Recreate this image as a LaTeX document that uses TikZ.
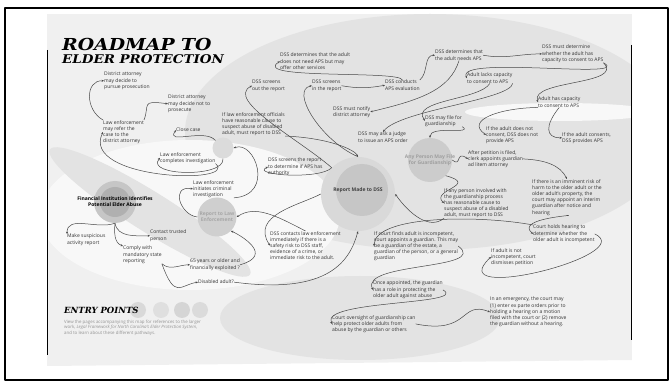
\documentclass[tikz,border=0pt]{standalone}
\usepackage{fontspec}
\setmainfont{Open Sans}
\newfontfamily\titlefont{DejaVu Serif}
\usetikzlibrary{arrows.meta}
\definecolor{pagebg}{HTML}{F0F0F0}
\definecolor{blobgray}{HTML}{E3E3E3}
\definecolor{inkgray}{HTML}{333333}
\begin{document}
\begin{tikzpicture}[x=1pt,y=-1pt,line join=round,
    lbl/.style={anchor=north west,align=left,inner sep=0pt,text=inkgray,font=\fontsize{5}{6.2}\selectfont},
    link/.style={draw=black!72,line width=0.5pt,-{Stealth[length=2.4pt,width=2pt]}},
    hub/.style={circle,inner sep=0pt,minimum size=#1},
    hubtext/.style={align=center,inner sep=0pt,font=\fontsize{5}{6}\selectfont\bfseries},
  ]
  \useasboundingbox (0,0) rectangle (670,382);
  \fill[white] (0,0) rectangle (670,382);
  \draw[line width=1.5pt] (5,8) rectangle (668,380);
  % page and background shading
  \begin{scope}
    \clip (47,14) -- (632,14) -- (632,360) -- (47,366) -- cycle;
    \fill[pagebg] (47,14) rectangle (632,366);
    \fill[blobgray] (430,132) ellipse [x radius=245, y radius=118];
    \fill[white!55!pagebg] (190,215) ellipse [x radius=150, y radius=75];
    \fill[blobgray,rotate around={-32:(150,212)}] (150,212) ellipse [x radius=118, y radius=20];
    \fill[blobgray] (360,318) ellipse [x radius=140, y radius=42];
    \fill[white!50!pagebg] (560,112) ellipse [x radius=95, y radius=9];
  \end{scope}
  \draw[line width=0.8pt] (47,50) -- (47,355);
  \draw[line width=0.8pt] (631,45) -- (631,340);

  % title
  \node[anchor=base west,inner sep=0pt] (title1) at (62,51) {\titlefont\bfseries\itshape\fontsize{16.5}{16.5}\selectfont\scalebox{1.14}[1]{ROADMAP TO}};
  \node[anchor=base west,inner sep=0pt] (title2) at (62,64) {\titlefont\bfseries\itshape\fontsize{12}{12}\selectfont\scalebox{1.12}[1]{ELDER PROTECTION}};

  % hubs
  \node[hub=42pt,fill=gray!45] (fininst) at (115,202) {};
  \fill[gray!62] (fininst) circle (15);
  \node[hubtext,text=black] at (fininst) {Financial Institution Identifies\\Potential Elder Abuse};
  \node[hub=74pt,fill=gray!30] (reportdss) at (358,194) {};
  \fill[gray!45] (362,190) circle (26);
  \node[hubtext,text=black!75] at (358,190) {Report Made to DSS};
  \node[hub=39pt,fill=gray!38] (reportle) at (217,217) {};
  \node[hubtext,text=gray!70] at (reportle) {Report to Law\\Enforcement};
  \node[hub=44pt,fill=gray!40] (anyperson) at (430,160) {};
  \node[hubtext,text=gray!75] at (anyperson) {Any Person May File\\for Guardianship};
  \node[hub=21pt,fill=gray!28] (jail) at (223,148) {};

  % labels, left side
  \node[lbl] (dapursue) at (104,72) {District attorney\\may decide to\\pursue prosecution};
  \node[lbl] (danot) at (168,95) {District attorney\\may decide not to\\prosecute};
  \node[lbl] (lerefer) at (103,120) {Law enforcement\\may refer the\\case to the\\district attorney};
  \node[lbl] (closecase) at (176,128) {Close case};
  \node[lbl] (lecomplete) at (160,152) {Law enforcement\\completes investigation};
  \node[lbl] (lemust) at (222,112) {If law enforcement officials\\have reasonable cause to\\suspect abuse of disabled\\adult, must report to DSS};
  \node[lbl] (leinit) at (193,180) {Law enforcement\\initiates criminal\\investigation};
  \node[lbl] (suspicious) at (67,234) {Make suspicious\\activity report};
  \node[lbl] (trusted) at (150,230) {Contact trusted\\person};
  \node[lbl] (comply) at (123,246) {Comply with\\mandatory state\\reporting};
  \node[lbl] (older) at (190,259) {65 years or older and\\financially exploited ?};
  \node[lbl] (disabled) at (198,280) {Disabled adult?};

  % labels, middle
  \node[lbl] (noneed) at (280,53) {DSS determines that the adult\\does not need APS but may\\offer other services};
  \node[lbl] (screenout) at (252,80) {DSS screens\\out the report};
  \node[lbl] (screenin) at (312,80) {DSS screens\\in the report};
  \node[lbl] (evaluate) at (385,80) {DSS conducts\\APS evaluation};
  \node[lbl] (notify) at (333,106) {DSS must notify\\district attorney};
  \node[lbl] (judge) at (358,132) {DSS may ask a judge\\to issue an APS order};
  \node[lbl] (authority) at (268,158) {DSS screens the report\\to determine if APS has\\authority};
  \node[lbl] (contactle) at (270,231) {DSS contacts law enforcement\\immediately if there is a\\safety risk to DSS staff,\\evidence of a crime, or\\immediate risk to the adult.};
  \node[lbl] (incompetent) at (374,231) {If court finds adult is incompetent,\\court appoints a guardian. This may\\be a guardian of the estate, a\\guardian of the person, or a general\\guardian};
  \node[lbl] (appointed) at (373,281) {Once appointed, the guardian\\has a role in protecting the\\older adult against abuse};
  \node[lbl] (oversight) at (332,315) {Court oversight of guardianship can\\help protect older adults from\\abuse by the guardian or others};
  \node[lbl] (emergency) at (490,297) {In an emergency, the court may\\(1) enter ex parte orders prior to\\holding a hearing on a motion\\filed with the court or (2) remove\\the guardian without a hearing.};

  % labels, right side
  \node[lbl] (needs) at (435,50) {DSS determines that\\the adult needs APS};
  \node[lbl] (capacity) at (542,45) {DSS must determine\\whether the adult has\\capacity to consent to APS};
  \node[lbl] (lacks) at (467,73) {Adult lacks capacity\\to consent to APS};
  \node[lbl] (hascap) at (538,97) {Adult has capacity\\to consent to APS};
  \node[lbl] (mayfile) at (425,115) {DSS may file for\\guardianship};
  \node[lbl] (noconsent) at (486,126) {If the adult does not\\consent, DSS does not\\provide APS};
  \node[lbl] (consents) at (562,132) {If the adult consents,\\DSS provides APS};
  \node[lbl] (petition) at (468,150) {After petition is filed,\\clerk appoints guardian\\ad litem attorney};
  \node[lbl] (imminent) at (532,179) {If there is an imminent risk of\\harm to the older adult or the\\older adult's property, the\\court may appoint an interim\\guardian after notice and\\hearing};
  \node[lbl] (anyinvolved) at (444,188) {If any person involved with\\the guardianship process\\has reasonable cause to\\suspect abuse of a disabled\\adult, must report to DSS};
  \node[lbl] (hearing) at (533,225) {Court holds hearing to\\determine whether the\\older adult is incompetent};
  \node[lbl] (dismiss) at (491,248) {If adult is not\\incompetent, court\\dismisses petition};

  % entry points
  \foreach \cx/\shade in {138/30,161/25,182/33,200/28}{%
    \fill[gray!\shade] (\cx,310) circle (8);
  }
  \node[anchor=west,inner sep=0pt] (entry) at (64,310) {\titlefont\bfseries\itshape\fontsize{8.5}{8.5}\selectfont ENTRY POINTS};
  \node[anchor=north west,align=left,inner sep=0pt,text=gray!85,font=\fontsize{4.4}{5.4}\selectfont] (entrytext) at (64,320)
    {View the pages accompanying this map for references to the larger\\work, \textit{Legal Framework for North Carolina's Elder Protection System},\\and to learn about these different pathways.};

  % connectors, left
  \draw[link] (fininst.south) to[out=200,in=90] (suspicious.north west);
  \draw[link] (fininst.south) to[out=-80,in=180] (trusted.west);
  \draw[link] (fininst.south) to[out=-95,in=160] (comply.north west);
  \draw[link] (comply.south east) to[out=-40,in=180] (older.west);
  \draw[link] (comply.south east) .. controls (175,300) and (180,285) .. (disabled.west);
  \draw[link] (older.east) .. controls (275,255) and (240,235) .. (reportle.south east);
  \draw[link] (disabled.east) .. controls (330,295) and (350,260) .. (reportdss.south);
  \draw[link] (reportle.west) .. controls (180,215) and (170,185) .. (leinit.west);
  \draw[link] (leinit.south east) .. controls (275,195) and (255,140) .. (jail.east);
  \draw[link] (jail.north west) .. controls (205,128) and (165,145) .. (closecase.west);
  \draw[link] (jail.south) .. controls (225,178) and (145,176) .. (lecomplete.west);
  \draw[link] (lecomplete.south east) .. controls (240,185) and (80,180) .. (lerefer.west);
  \draw[link] (lerefer.north west) .. controls (85,110) and (85,80) .. (dapursue.west);
  \draw[link] (lerefer.north east) .. controls (150,105) and (140,100) .. (danot.west);
  \draw[link] (lemust.south east) .. controls (330,138) and (355,150) .. (reportdss.north);

  % connectors, middle
  \draw[link] (reportdss.north west) .. controls (300,140) and (225,100) .. (screenout.west);
  \draw[link] (reportdss.north) .. controls (320,140) and (290,90) .. (screenin.west);
  \draw[link] (screenin.east) to[out=-10,in=190] (evaluate.west);
  \draw[link] (evaluate.north) .. controls (400,70) and (250,80) .. (noneed.west);
  \draw[link] (evaluate.north east) to[out=40,in=180] (needs.west);
  \draw[link] (needs.south) .. controls (450,90) and (420,100) .. (notify.east);
  \draw[link] (reportdss.north west) .. controls (320,180) and (250,175) .. (authority.west);
  \draw[link] (reportdss.west) .. controls (300,205) and (250,215) .. (contactle.west);
  \draw[link] (contactle.north) .. controls (275,215) and (255,205) .. (reportle.east);

  % connectors, right
  \draw[link] (needs.east) to[out=-10,in=180] (capacity.west);
  \draw[link] (capacity.south east) .. controls (635,80) and (455,55) .. (lacks.west);
  \draw[link] (capacity.south east) .. controls (625,85) and (530,80) .. (hascap.west);
  \draw[link] (lacks.south east) .. controls (510,100) and (400,110) .. (judge.north);
  \draw[link] (lacks.south) .. controls (480,100) and (410,100) .. (mayfile.west);
  \draw[link] (hascap.south west) .. controls (500,108) and (465,120) .. (noconsent.west);
  \draw[link] (hascap.south) .. controls (545,125) and (545,138) .. (consents.west);
  \draw[link] (mayfile.south east) .. controls (475,135) and (430,125) .. (anyperson.north);
  \draw[link] (anyperson.east) .. controls (462,168) and (455,150) .. (petition.west);
  \draw[link] (petition.east) .. controls (545,160) and (560,165) .. (imminent.north);
  \draw[link] (anyperson.south east) .. controls (480,185) and (430,190) .. (anyinvolved.west);
  \draw[link] (anyinvolved.south west) .. controls (430,230) and (410,215) .. (reportdss.east);
  \draw[link] (imminent.south) .. controls (580,215) and (515,218) .. (hearing.west);
  \draw[link] (hearing.east) .. controls (640,255) and (440,305) .. (dismiss.west);
  \draw[link] (hearing.north west) .. controls (480,215) and (375,215) .. (incompetent.west);
  \draw[link] (incompetent.east) .. controls (490,270) and (360,262) .. (appointed.west);
  \draw[link] (appointed.east) .. controls (470,305) and (320,300) .. (oversight.west);
  \draw[link] (oversight.east) .. controls (470,335) and (460,300) .. (emergency.west);
\end{tikzpicture}
\end{document}
